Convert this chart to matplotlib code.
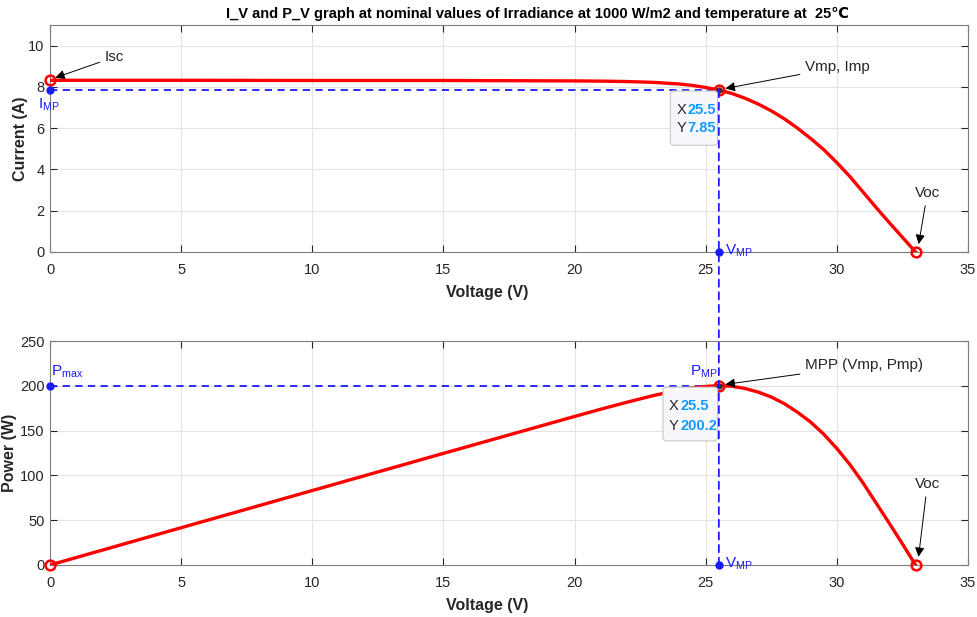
import numpy as np
import matplotlib
matplotlib.use("Agg")
import matplotlib.pyplot as plt
from matplotlib.patches import ConnectionPatch, FancyBboxPatch

plt.rcParams['font.family'] = ['Liberation Sans', 'DejaVu Sans']
plt.rcParams['font.size'] = 11

# values
volt = [0, 5, 10, 15, 20, 21, 22, 23, 24, 24.5, 25, 25.5, 26, 26.5, 27, 27.5, 28, 28.5,
        29, 29.5, 30, 30.5, 31, 31.5, 32, 32.5, 33]
current = [8.32, 8.32, 8.31, 8.31, 8.29, 8.28, 8.26, 8.22, 8.14, 8.07, 7.97, 7.85, 7.68,
           7.45, 7.17, 6.84, 6.45, 6.0, 5.5, 4.96, 4.33, 3.65, 2.9, 2.15, 1.42, 0.71, 0]
power = [0, 41.6, 83.1, 124.6, 165.8, 173.9, 181.7, 189.1, 195.4, 197.7, 199.3, 200.2,
         199.5, 197.0, 193.0, 187.5, 180.0, 170.5, 159.5, 146.0, 130.0, 112.0, 91.5,
         69.0, 46.5, 23.5, 0]

Vmp = 25.5
Imp = 7.85
Pmp = 200.2
Isc = 8.32
Voc = 33.0

title = "I_V and P_V graph at nominal values of Irradiance at 1000 W/m2 and temperature at  25\u2103"

fig = plt.figure(figsize=(9.77, 6.17), dpi=100)
ax1 = fig.add_axes([0.0512, 0.5916, 0.9396, 0.3679])
ax2 = fig.add_axes([0.0512, 0.0843, 0.9396, 0.3630])

grey = '#262626'
blue = '#1a1aff'
for ax in (ax1, ax2):
    ax.set_xlim(0, 35)
    ax.set_xticks(np.arange(0, 36, 5))
    ax.grid(True, color='#e3e3e3', linewidth=0.8)
    ax.set_axisbelow(True)
    ax.tick_params(direction='in', top=True, right=True, colors=grey, labelsize=10.5,
                   length=5, width=0.8, pad=8)
    ax.tick_params(axis='y', pad=4)
    for s in ax.spines.values():
        s.set_color('#7f7f7f')
        s.set_linewidth(0.8)
    ax.set_xlabel('Voltage (V)', fontweight='bold', fontsize=11.5, color=grey)
    ax.xaxis.set_label_coords(0.476, -0.147)

fig.text(0.55, 0.977, title, fontweight='bold', fontsize=10.5, color='black',
         ha='center', va='center')


def datatip(ax, x0, x1, y0, y1, xt, xn, rows, nums, aspect):
    # rounded box with X / Y readout, like a MATLAB data tip
    p = FancyBboxPatch((x0, y0), x1 - x0, y1 - y0,
                       boxstyle='round,pad=0,rounding_size=0.12',
                       mutation_aspect=aspect, fc='#f8f8fc', ec='#c8c8c8', lw=0.8,
                       zorder=6)
    ax.add_patch(p)
    for lab, yy, val in zip(['X', 'Y'], rows, nums):
        ax.text(xt, yy, lab, color=grey, fontsize=10.5, ha='left', va='center', zorder=7)
        ax.text(xn, yy, val, color='#0f9bff', fontsize=10.5, fontweight='bold',
                ha='left', va='center', zorder=7)


arr = dict(arrowstyle='-|>', color='black', lw=0.7, mutation_scale=14)

# ---- I-V ----
ax1.set_ylim(0, 11)
ax1.set_yticks(np.arange(0, 11, 2))
ax1.set_ylabel('Current (A)', fontweight='bold', fontsize=11.5, color=grey)
ax1.yaxis.set_label_coords(-0.024, 0.5)
ax1.plot([0, Vmp], [Imp, Imp], color=blue, lw=1.3, dashes=(4, 3))
ax1.plot(volt, current, color='#ff0000', lw=2.4, zorder=3)
ax1.plot([0, Vmp, Voc], [Isc, Imp, 0], 'o', ms=7, mfc='none', mec='#ff0000', mew=1.8,
         zorder=4, clip_on=False)
ax1.plot([Vmp], [Imp], 'o', ms=3.5, color='#333333', zorder=5)
ax1.plot([0, Vmp], [Imp, 0], 'o', ms=5, color=blue, zorder=5, clip_on=False)
ax1.text(-0.45, 7.55, r'I$_{\mathregular{MP}}$', color=blue, fontsize=11, ha='left', va='top')
ax1.text(25.75, 0.05, r'V$_{\mathregular{MP}}$', color=blue, fontsize=11, ha='left', va='center')

ax1.annotate('Isc', xy=(0.1, Isc + 0.08), xytext=(2.1, 9.45), fontsize=11, color=grey,
             arrowprops=arr, va='center', ha='left')
ax1.annotate('Vmp, Imp', xy=(Vmp + 0.15, Imp + 0.05), xytext=(28.8, 8.95), fontsize=11,
             color=grey, arrowprops=arr, va='center', ha='left')
ax1.annotate('Voc', xy=(Voc + 0.1, 0.25), xytext=(33.45, 2.85), fontsize=11, color=grey,
             arrowprops=arr, va='center', ha='center')

datatip(ax1, 23.65, 25.45, 5.17, 7.8, 23.88, 24.3, [6.9, 6.0], ['25.5', '7.85'],
        26.2 / 20.6)

# ---- P-V ----
ax2.set_ylim(0, 250)
ax2.set_yticks(np.arange(0, 251, 50))
ax2.set_ylabel('Power (W)', fontweight='bold', fontsize=11.5, color=grey)
ax2.yaxis.set_label_coords(-0.036, 0.5)
ax2.plot([0, Vmp], [Pmp, Pmp], color=blue, lw=1.3, dashes=(4, 3))
ax2.plot(volt, power, color='#ff0000', lw=2.4, zorder=3)
ax2.plot([0, Vmp, Voc], [0, Pmp, 0], 'o', ms=7, mfc='none', mec='#ff0000', mew=1.8,
         zorder=4, clip_on=False)
ax2.plot([Vmp], [Pmp], 'o', ms=3.5, color='#333333', zorder=5)
ax2.plot([0, Vmp], [Pmp, 0], 'o', ms=5, color=blue, zorder=5, clip_on=False)
ax2.text(0.05, 207, r'P$_{\mathregular{max}}$', color=blue, fontsize=11, ha='left', va='bottom')
ax2.text(24.4, 207, r'P$_{\mathregular{MP}}$', color=blue, fontsize=11, ha='left', va='bottom')
ax2.text(25.75, 1, r'V$_{\mathregular{MP}}$', color=blue, fontsize=11, ha='left', va='center')

ax2.annotate('MPP (Vmp, Pmp)', xy=(Vmp + 0.15, Pmp + 1), xytext=(28.8, 223), fontsize=11,
             color=grey, arrowprops=arr, va='center', ha='left')
ax2.annotate('Voc', xy=(Voc + 0.1, 6), xytext=(33.45, 90), fontsize=11, color=grey,
             arrowprops=arr, va='center', ha='center')

datatip(ax2, 23.37, 25.45, 138.5, 198.5, 23.6, 24.02, [177.7, 155.3], ['25.5', '200.2'],
        26.2 / 0.896)

# vertical dashed line through both panels
con = ConnectionPatch(xyA=(Vmp, Imp), coordsA=ax1.transData, xyB=(Vmp, 0),
                      coordsB=ax2.transData, linestyle=(0, (4, 3)), color=blue, lw=1.3,
                      zorder=2)
fig.add_artist(con)

fig.savefig('out.png', dpi=100)
